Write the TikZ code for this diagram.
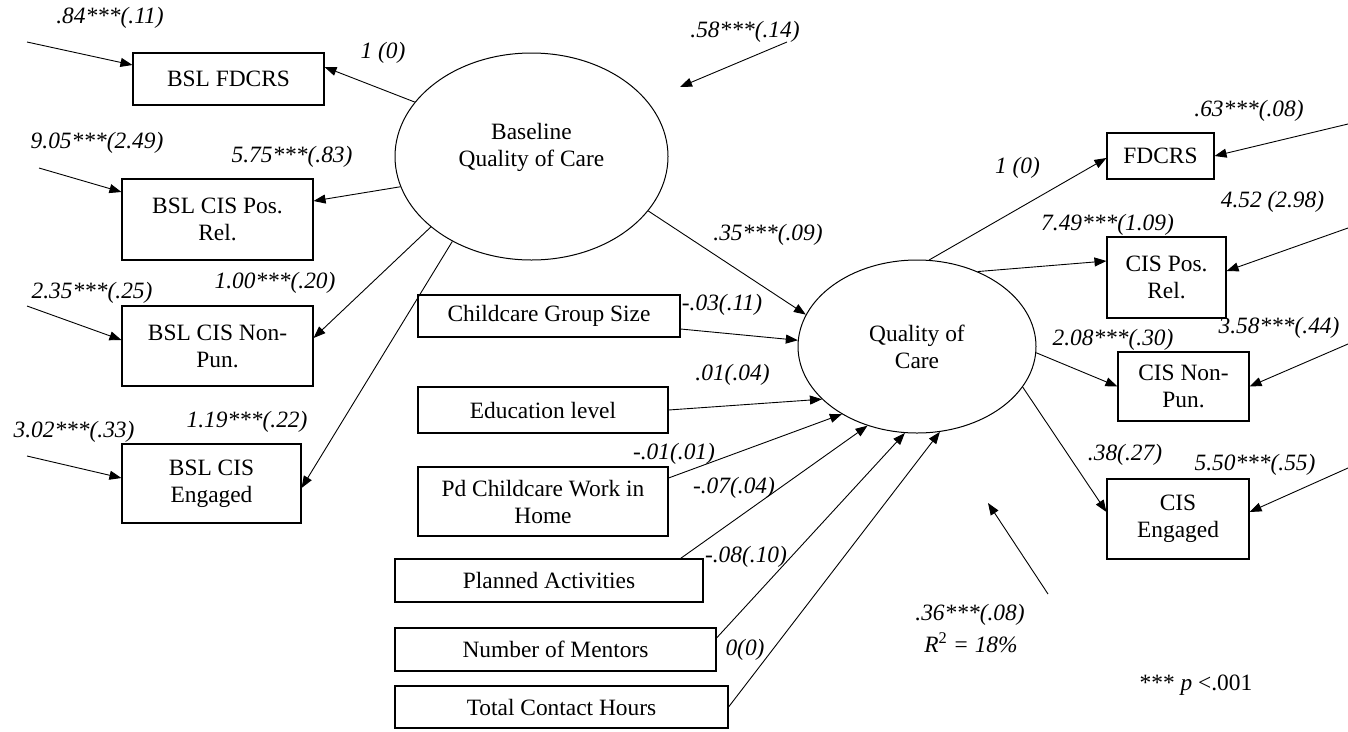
\documentclass[tikz,border=0pt]{standalone}
\usepackage{fontspec}
\setmainfont{Liberation Serif}
\usetikzlibrary{arrows.meta,shapes.geometric}

\begin{document}
\begin{tikzpicture}[x=1pt,y=-1pt,
  every node/.style={font=\fontsize{23.4}{27}\selectfont},
  box/.style={draw, line width=1.1pt, inner sep=0pt, align=center},
  latent/.style={draw, ellipse, line width=1pt, inner sep=0pt},
  coef/.style={font=\fontsize{23.4}{27}\selectfont\itshape, inner sep=0pt},
  note/.style={inner sep=0pt},
  path/.style={-{Triangle[length=12pt,width=9pt]}, line width=0.9pt},
]
\useasboundingbox (0,0) rectangle (1348,731);

% latent variables
\node[latent, minimum width=273pt, minimum height=207pt] (base) at (531.5,156.5) {};
\node[note, align=center] (baselbl) at (531.5,147) {Baseline\\Quality of Care};
\node[latent, minimum width=238pt, minimum height=173pt, align=center] (qual) at (917,346.5) {Quality of\\Care};

% baseline indicators
\node[box, minimum width=191pt, minimum height=52pt] (bfd) at (228.5,79) {BSL FDCRS};
\node[box, minimum width=191pt, minimum height=81pt] (bpos) at (217.5,219.5) {BSL CIS Pos.\\Rel.};
\node[box, minimum width=191pt, minimum height=80pt] (bnon) at (217.5,346) {BSL CIS Non-\\Pun.};
\node[box, minimum width=179pt, minimum height=79pt] (beng) at (211.5,483.5) {BSL CIS\\Engaged};

% outcome indicators
\node[box, minimum width=107pt, minimum height=46pt] (fd) at (1160.5,156) {FDCRS};
\node[box, minimum width=119pt, minimum height=81pt] (pos) at (1166.5,277.5) {CIS Pos.\\Rel.};
\node[box, minimum width=131pt, minimum height=69pt] (non) at (1183.5,386.5) {CIS Non-\\Pun.};
\node[box, minimum width=142pt, minimum height=80pt] (eng) at (1178,519) {CIS\\Engaged};

% covariates
\node[box, minimum width=262pt, minimum height=42pt] (grp) at (549,316) {Childcare Group Size};
\node[box, minimum width=250pt, minimum height=46pt] (edu) at (543,410) {Education level};
\node[box, minimum width=250pt, minimum height=69pt] (pd) at (543,501.5) {Pd Childcare Work in\\Home};
\node[box, minimum width=308pt, minimum height=43pt] (plan) at (549,580.5) {Planned Activities};
\node[box, minimum width=321pt, minimum height=43pt] (ment) at (555.5,649.5) {Number of Mentors};
\node[box, minimum width=333pt, minimum height=42pt] (tot) at (561.5,707) {Total Contact Hours};

% loadings of the baseline factor
\draw[path] (base.155) -- ([yshift=12pt]bfd.east);
\draw[path] (base.193) -- ([yshift=18.5pt]bpos.east);
\draw[path] (base.215) -- ([yshift=8pt]bnon.east);
\draw[path] (base.227) -- ([yshift=-4.5pt]beng.east);

% structural path
\draw[path] (base.335) -- (qual.164);

% loadings of the outcome factor
\draw[path] (qual.82) -- ([yshift=-2pt]fd.west);
\draw[path] (qual.51) -- ([yshift=16.5pt]pos.west);
\draw[path] (qual.357) -- (non.west);
\draw[path] (qual.339) -- ([yshift=7pt]eng.west);

% covariate paths
\draw[path] ([yshift=-13pt]grp.east) -- (qual.177);
\draw[path] (edu.east) -- (qual.209);
\draw[path] ([yshift=23.5pt]pd.east) -- (qual.222);
\draw[path] ([xshift=-23pt]plan.north east) -- (qual.238);
\draw[path] ([yshift=11.5pt]ment.east) -- (qual.262);
\draw[path] (tot.east) -- (qual.285);

% error terms, left
\coordinate (e1) at (27,42);
\coordinate (e2) at (39,168);
\coordinate (e3) at (27,306);
\coordinate (e4) at (27,456);
\draw[path] (e1) -- ([yshift=14pt]bfd.west);
\draw[path] (e2) -- ([yshift=27.5pt]bpos.west);
\draw[path] (e3) -- ([yshift=6pt]bnon.west);
\draw[path] (e4) -- ([yshift=5.5pt]beng.west);

% error terms, right
\coordinate (r1) at (1348,124);
\coordinate (r2) at (1348,228);
\coordinate (r3) at (1348,344);
\coordinate (r4) at (1348,468);
\draw[path] (r1) -- (fd.east);
\draw[path] (r2) -- ([yshift=6.5pt]pos.east);
\draw[path] (r3) -- (non.east);
\draw[path] (r4) -- ([yshift=7pt]eng.east);

% disturbances
\coordinate (d1s) at (787,42);
\coordinate (d1e) at (680,87);
\draw[path] (d1s) -- (d1e);
\coordinate (d2s) at (1048,594);
\coordinate (d2e) at (988,503);
\draw[path] (d2s) -- (d2e);

% estimates
\node[coef] (c1) at (110,18) {.84***(.11)};
\node[coef] (c2) at (97,143) {9.05***(2.49)};
\node[coef] (c3) at (92,293) {2.35***(.25)};
\node[coef] (c4) at (74,432) {3.02***(.33)};
\node[coef] (c5) at (383,53) {1 (0)};
\node[coef] (c6) at (292,157) {5.75***(.83)};
\node[coef] (c7) at (275,283) {1.00***(.20)};
\node[coef] (c8) at (247,422) {1.19***(.22)};
\node[coef] (c9) at (745,32) {.58***(.14)};
\node[coef] (c10) at (768,235) {.35***(.09)};
\node[coef] (c11) at (722,305) {-.03(.11)};
\node[coef] (c12) at (732.5,375) {.01(.04)};
\node[coef] (c13) at (674,454) {-.01(.01)};
\node[coef] (c14) at (734,488) {-.07(.04)};
\node[coef] (c15) at (746,557) {-.08(.10)};
\node[coef] (c16) at (745,650) {0(0)};
\node[coef] (c17) at (1249,111) {.63***(.08)};
\node[coef] (c18) at (1017.5,168) {1 (0)};
\node[coef] (c19) at (1272.5,202) {4.52 (2.98)};
\node[coef] (c20) at (1107.5,225) {7.49***(1.09)};
\node[coef] (c21) at (1279,328) {3.58***(.44)};
\node[coef] (c22) at (1113,340) {2.08***(.30)};
\node[coef] (c23) at (1125,455) {.38(.27)};
\node[coef] (c24) at (1255,465) {5.50***(.55)};
\node[coef] (c25) at (970,615) {.36***(.08)};
\node[coef] (r2lbl) at (971,643) {R\textsuperscript{\upshape 2} = 18\%};
\node[note] (sig) at (1196,685) {*** \textit{p} <.001};
\end{tikzpicture}
\end{document}
